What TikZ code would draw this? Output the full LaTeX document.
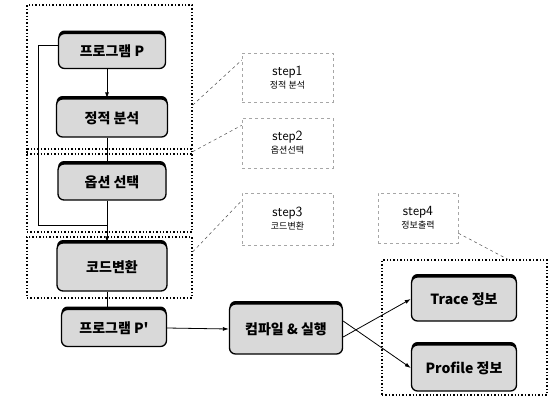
\documentclass[tikz,border=0pt]{standalone}
\usepackage{fontspec}
\newfontfamily\kr{Noto Sans CJK KR}
\usetikzlibrary{shadows,calc,arrows.meta}
\begin{document}
\begin{tikzpicture}[x=1pt,y=-1pt,
  proc/.style={draw=black, line width=1.3pt, rounded corners=6pt, fill=gray!30,
    drop shadow={shadow xshift=0pt, shadow yshift=3pt, fill=black, opacity=1},
    font=\kr\bfseries\fontsize{14}{16}\selectfont, inner sep=0pt},
  group/.style={draw=black, dotted, line width=1.4pt, inner sep=0pt},
  stepbox/.style={draw=gray!70, dashed, line width=0.6pt, inner sep=0pt, align=center,
    font=\kr\fontsize{12}{14}\selectfont},
  conn/.style={draw=black, line width=0.8pt},
  arr/.style={conn, -{Latex[length=6pt,width=4pt]}},
  lead/.style={draw=black!70, dashed, line width=0.5pt}]
\useasboundingbox (0,0) rectangle (549,405);
% groups
\node[group, minimum width=165, minimum height=149] (box1) at (109.5,79.5) {};
\node[group, minimum width=165, minimum height=83] (box2) at (109.5,190.5) {};
\node[group, minimum width=165, minimum height=61] (box3) at (109.5,267.5) {};
\node[group, minimum width=165, minimum height=135] (box4) at (464.5,327.5) {};
% process nodes
\node[proc, minimum width=107, minimum height=35] (prog) at (112,51) {프로그램 P};
\node[proc, minimum width=111, minimum height=38] (static) at (112,118) {정적 분석};
\node[proc, minimum width=108, minimum height=36] (option) at (112,182) {옵션 선택};
\node[proc, minimum width=110, minimum height=48] (code) at (112,267) {코드변환};
\node[proc, minimum width=105, minimum height=37] (progp) at (114,328) {프로그램 P'};
\node[proc, minimum width=113, minimum height=50] (comp) at (286,329) {컴파일 \& 실행};
\node[proc, minimum width=105, minimum height=44] (trace) at (464,299) {Trace 정보};
\node[proc, minimum width=105, minimum height=46] (profile) at (464,368) {Profile 정보};
% step boxes
\node[stepbox, minimum width=91, minimum height=49] (s1) at (287.5,77.5)
  {{\sffamily\fontsize{14}{16}\selectfont step1}\\[-1pt]{\fontsize{9}{11}\selectfont 정적 분석}};
\node[stepbox, minimum width=91, minimum height=50] (s2) at (287.5,143)
  {{\sffamily\fontsize{14}{16}\selectfont step2}\\[-1pt]{\fontsize{9}{11}\selectfont 옵션선택}};
\node[stepbox, minimum width=91, minimum height=52] (s3) at (287.5,219)
  {{\sffamily\fontsize{14}{16}\selectfont step3}\\[-1pt]{\fontsize{9}{11}\selectfont 코드변환}};
\node[stepbox, minimum width=80, minimum height=50] (s4) at (418,218)
  {{\sffamily\fontsize{14}{16}\selectfont step4}\\[-1pt]{\fontsize{9}{11}\selectfont 정보출력}};
% leader lines
\draw[lead] ($(box1.north east)!0.67!(box1.south east)$) -- ($(s1.north west)!0.15!(s1.south west)$);
\draw[lead] ($(box2.north east)!0.04!(box2.south east)$) -- ($(s2.north west)!0.15!(s2.south west)$);
\draw[lead] ($(box3.north east)!0.25!(box3.south east)$) -- ($(s3.north west)!0.15!(s3.south west)$);
\draw[lead] ($(s4.south east)!0.2!(s4.north east)$) -- ($(box4.north west)!0.76!(box4.north east)$);
% spine and loop
\coordinate (spine) at (107,0);
\coordinate (lpx) at (38,0);
\coordinate (lpy) at (0,225);
\draw[arr] (prog.south -| spine) -- (static.north -| spine);
\draw[conn] (static.south -| spine) -- (option.north -| spine);
\draw[conn] (option.south -| spine) -- (spine |- lpy);
\draw[arr] ([yshift=6pt]prog.west) -- ([yshift=6pt]prog.west -| lpx) -- (lpx |- lpy) -- (spine |- lpy) -- (code.north -| spine);
\draw[conn] (code.south -| spine) -- (progp.north -| spine);
\draw[arr] (progp.east) -- (comp.west);
\draw[arr] ([yshift=-8pt]comp.east) -- (trace.west);
\draw[arr] ([yshift=8pt]comp.east) -- (profile.west);
\end{tikzpicture}
\end{document}
